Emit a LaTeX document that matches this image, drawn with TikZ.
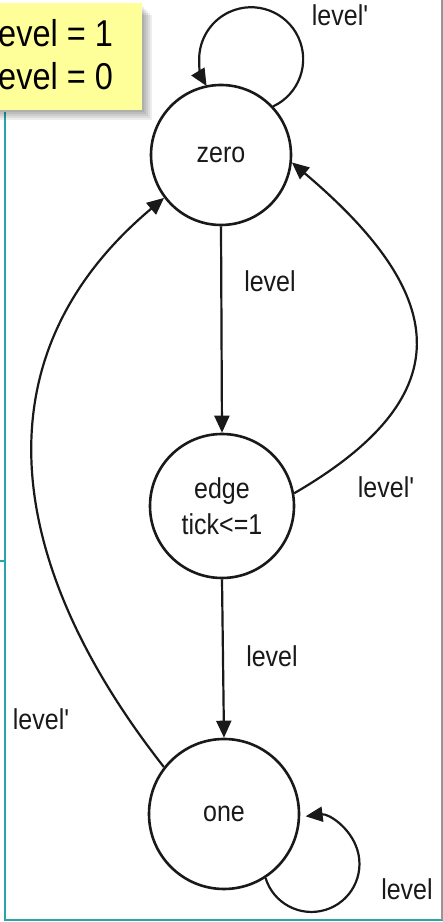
\documentclass[tikz,border=0pt]{standalone}
\usepackage{fontspec}
\setmainfont{Liberation Sans}[Ligatures=TeXOff]
\usetikzlibrary{arrows.meta}
\definecolor{teal1}{RGB}{40,165,165}
\definecolor{noteyellow}{RGB}{255,255,153}
\definecolor{ink}{RGB}{25,25,25}
\definecolor{edgegray}{RGB}{150,150,150}
\newcommand{\tallt}[1]{\scalebox{1}[1.15]{#1}}
\begin{document}
\begin{tikzpicture}[x=1pt,y=1pt,
  state/.style={circle, draw=ink, line width=2.6pt, inner sep=0pt, text=ink,
    font=\fontsize{25}{36}\selectfont, align=center},
  trans/.style={draw=ink, line width=2.2pt, -{Triangle[length=17pt,width=15pt]}},
  lbl/.style={text=ink, font=\fontsize{25}{30}\selectfont, inner sep=0pt},
  notetext/.style={text=black, font=\fontsize{32.5}{38}\selectfont, inner sep=0pt, anchor=base west},
  frameline/.style={draw=teal1, line width=2pt},
]
\useasboundingbox (0,0) rectangle (443,922);
\fill[white] (0,0) rectangle (443,922);
% frame lines
\draw[frameline] (5,810) -- (5,2) -- (443,2);
\draw[frameline] (0,361) -- (5,361);
\draw[edgegray, line width=1.5pt] (442,922) -- (442,2);
% note shadow and box
\foreach \d in {2,4,6,8,10} {
  \fill[black, opacity=0.07] (0,812-\d) rectangle (142+\d,917-\d);
}
\fill[noteyellow] (0,812) rectangle (142,919);
\node[notetext] (n1) at (-2,875) {\tallt{evel = 1}};
\node[notetext] (n2) at (-2,832) {\tallt{evel = 0}};
% states
\node[state, minimum size=140pt] (zero) at (221,767) {\tallt{zero}};
\node[state, minimum size=144pt] (edge) at (222,416) {\tallt{edge}\\\tallt{tick<=1}};
\node[state, minimum size=150pt] (one) at (224,108) {\tallt{one}};
% transitions
\draw[trans] (zero.43) arc[start angle=-65, end angle=211, radius=52];
\draw[trans] (zero.south) -- (edge.north);
\draw[trans] (edge.south) -- (one.north);
\draw[trans] (edge.10) .. controls (467,529) and (445,630) .. (zero.-6);
\draw[trans] (one.142) .. controls (9,352) and (-29,562) .. (zero.217);
\draw[trans] (one.-57) arc[start angle=197, end angle=457, radius=48];
% labels
\node[lbl] (l1) at (340,907) {\tallt{level'}};
\node[lbl] (l2) at (270,641) {\tallt{level}};
\node[lbl] (l3) at (386,435) {\tallt{level'}};
\node[lbl] (l4) at (272,266) {\tallt{level}};
\node[lbl] (l5) at (41,203) {\tallt{level'}};
\node[lbl] (l6) at (407,33) {\tallt{level}};
\end{tikzpicture}
\end{document}
